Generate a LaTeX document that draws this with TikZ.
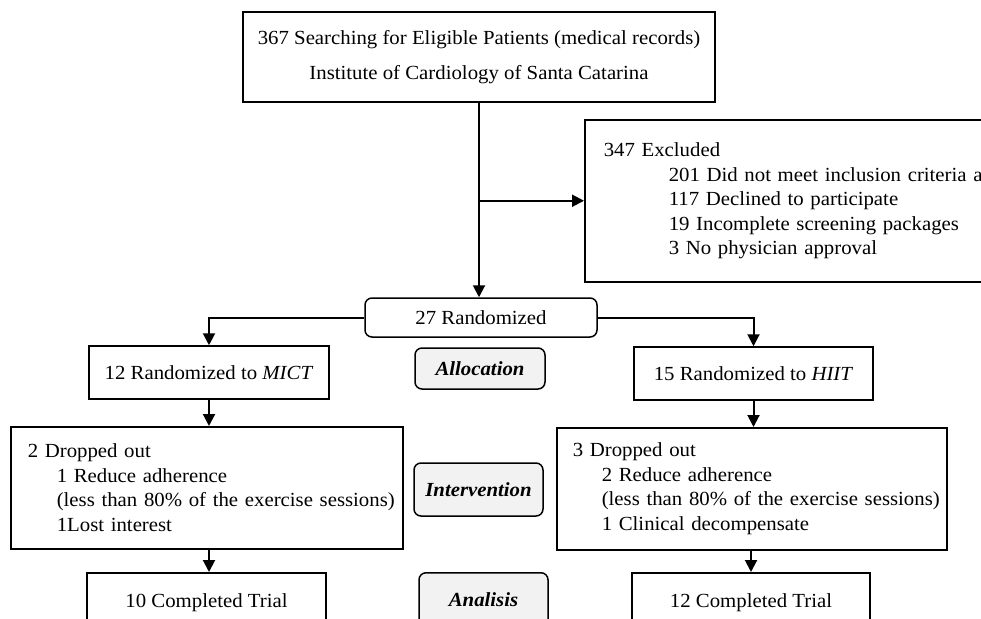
\documentclass[tikz,border=0pt]{standalone}
\usepackage{fontspec}
\setmainfont{Liberation Serif}[FakeStretch=1.04]
\usepackage{xcolor}
\usepackage{tikz}
\usetikzlibrary{arrows.meta,positioning}
\definecolor{stagefill}{HTML}{F2F2F2}
\newcommand{\flowfont}{\fontsize{20}{24.5}\selectfont}
\newcommand{\reason}[2][29pt]{\mbox{\hspace*{#1}#2}}

\begin{document}
\begin{tikzpicture}[x=1pt,y=-1pt,
    box/.style={draw,line width=1.5pt,inner sep=0pt,align=center,font=\flowfont},
    listbox/.style={draw,line width=1.5pt,inner ysep=0pt,align=left,anchor=north west,font=\flowfont},
    stage/.style={draw,line width=1.5pt,rounded corners=7pt,fill=stagefill,inner sep=0pt,
                  font=\flowfont\bfseries\itshape},
    flow/.style={line width=2pt,-{Triangle[length=12pt,width=12pt]}}]
  \useasboundingbox (0,0) rectangle (981,618);
  \clip (0,0) rectangle (981,618);

  % screening
  \node[box,minimum width=472pt,minimum height=90pt,font=\fontsize{20}{35}\selectfont] (search) at (479,57)
    {367 Searching for Eligible Patients (medical records)\\Institute of Cardiology of Santa Catarina};
  \node[listbox,text width=378pt,inner xsep=19pt,minimum height=162pt] (excluded) at (584,119)
    {347 Excluded\\
     \reason[65pt]{201 Did not meet inclusion criteria a}\\
     \reason[65pt]{117 Declined to participate}\\
     \reason[65pt]{19 Incomplete screening packages}\\
     \reason[65pt]{3 No physician approval}};
  \node[box,rounded corners=7pt,minimum width=232pt,minimum height=39pt] (rand) at (481,317.5) {27 Randomized};

  % arms
  \node[box,minimum width=240pt,minimum height=53pt] (mict) at (209,372.5) {12 Randomized to \textit{MICT}};
  \node[box,minimum width=239pt,minimum height=53pt] (hiit) at (753.5,373.5) {15 Randomized to \textit{HIIT}};
  \node[listbox,text width=358pt,inner xsep=17pt,minimum height=122pt] (dropm) at (10,426)
    {2 Dropped out\\
     \reason{1 Reduce adherence}\\
     \reason{(less than 80\% of the exercise sessions)}\\
     \reason{1Lost interest}};
  \node[listbox,text width=358pt,inner xsep=16pt,minimum height=122pt] (droph) at (556,427)
    {3 Dropped out\\
     \reason{2 Reduce adherence}\\
     \reason{(less than 80\% of the exercise sessions)}\\
     \reason{1 Clinical decompensate}};
  \foreach \n/\x/\w/\k in {donem/206.5/239/10,doneh/751/238/12} {
    \node[box,anchor=north,minimum width=\w pt,inner ysep=21pt,text height=14pt,text depth=40pt] (\n) at (\x,572)
      {\k\ Completed Trial};
  }

  % stage labels
  \node[stage,minimum width=130pt,minimum height=41pt] (alloc) at (480,368.5) {Allocation};
  \node[stage,minimum width=129pt,minimum height=53pt] (interv) at (478.5,489.5) {Intervention};
  \node[stage,anchor=north,minimum width=129pt,inner ysep=20pt,text height=14pt,text depth=40pt] (anal) at (483.5,572) {Analisis};

  % connectors
  \draw[flow] (search.south) -- (search.south |- rand.north);
  \coordinate (split) at (search.south |- excluded.west);
  \draw[flow] (split) -- (excluded.west);
  \draw[flow] (rand.west) -| (mict.north);
  \draw[flow] (rand.east) -| (hiit.north);
  \draw[flow] (mict.south) -- (mict.south |- dropm.north);
  \draw[flow] (hiit.south) -- (hiit.south |- droph.north);
  \draw[flow] (mict.south |- dropm.south) -- (mict.south |- donem.north);
  \draw[flow] (doneh.north |- droph.south) -- (doneh.north);
\end{tikzpicture}
\end{document}
